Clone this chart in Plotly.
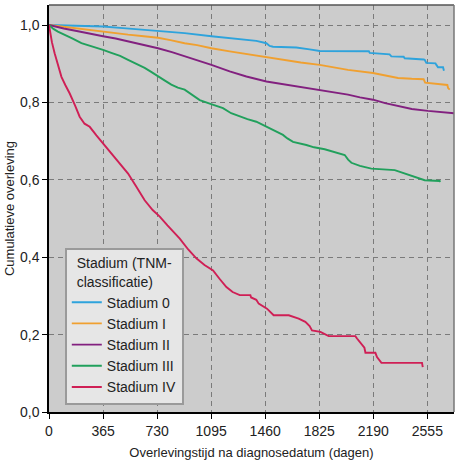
import plotly.graph_objects as go

# ---- data ----
series_names = ["Stadium 0", "Stadium I", "Stadium II", "Stadium III", "Stadium IV"]

days_0 = [0, 200, 365, 500, 736, 916, 1097, 1250, 1400, 1468, 1490, 1513, 1670, 1760, 1828, 2160, 2166, 2300, 2312,
          2395, 2402, 2530, 2537, 2548, 2610, 2616, 2627, 2661, 2667]
surv_0 = [1.0, 0.998, 0.996, 0.992, 0.985, 0.979, 0.971, 0.965, 0.959, 0.953, 0.946, 0.944, 0.942, 0.937, 0.933,
          0.932, 0.928, 0.924, 0.919, 0.918, 0.914, 0.911, 0.910, 0.902, 0.901, 0.897, 0.891, 0.891, 0.882]

days_1 = [0, 100, 196, 280, 365, 450, 534, 640, 736, 820, 916, 1000, 1097, 1220, 1320, 1423, 1558, 1700, 1828,
          1920, 2019, 2188, 2270, 2357, 2450, 2530, 2540, 2672, 2690, 2695, 2706]
surv_1 = [1.0, 0.995, 0.990, 0.986, 0.982, 0.979, 0.975, 0.971, 0.967, 0.961, 0.953, 0.948, 0.940, 0.932, 0.926,
          0.919, 0.910, 0.903, 0.897, 0.891, 0.884, 0.876, 0.869, 0.863, 0.861, 0.860, 0.851, 0.846, 0.845, 0.837,
          0.833]

days_2 = [0, 50, 100, 196, 280, 365, 450, 534, 640, 736, 830, 916, 1000, 1097, 1220, 1333, 1468, 1603, 1720,
          1828, 1920, 2019, 2100, 2188, 2270, 2357, 2450, 2559, 2650, 2739]
surv_2 = [1.0, 0.995, 0.991, 0.984, 0.977, 0.971, 0.965, 0.958, 0.949, 0.940, 0.930, 0.920, 0.909, 0.897, 0.880,
          0.867, 0.854, 0.846, 0.839, 0.833, 0.826, 0.820, 0.813, 0.807, 0.798, 0.790, 0.783, 0.778, 0.774, 0.772]

days_3 = [0, 30, 60, 107, 160, 219, 290, 365, 421, 480, 534, 590, 646, 690, 736, 780, 826, 870, 916, 970, 1018,
          1100, 1175, 1230, 1288, 1340, 1400, 1440, 1490, 1530, 1580, 1610, 1648, 1738, 1790, 1862, 1940, 1997,
          2020, 2042, 2100, 2177, 2335, 2402, 2458, 2537, 2638, 2640]
surv_3 = [1.0, 0.990, 0.983, 0.975, 0.965, 0.953, 0.945, 0.936, 0.928, 0.920, 0.910, 0.900, 0.889, 0.879, 0.867,
          0.857, 0.846, 0.838, 0.833, 0.818, 0.806, 0.795, 0.785, 0.772, 0.763, 0.757, 0.750, 0.742, 0.733, 0.726,
          0.716, 0.707, 0.698, 0.690, 0.684, 0.679, 0.670, 0.664, 0.652, 0.644, 0.636, 0.629, 0.625, 0.616, 0.608,
          0.599, 0.597, 0.594]

days_4 = [0, 10, 20, 38, 60, 84, 110, 140, 175, 207, 240, 275, 320, 365, 400, 444, 490, 534, 590, 646, 700, 748,
          800, 849, 883, 940, 995, 1050, 1108, 1150, 1198, 1240, 1288, 1360, 1365, 1400, 1416, 1472, 1500, 1517,
          1619, 1660, 1686, 1731, 1760, 1776, 1833, 1889, 2069, 2080, 2091, 2114, 2130, 2137, 2204, 2215, 2245,
          2519, 2524]
surv_4 = [1.0, 0.975, 0.955, 0.927, 0.895, 0.866, 0.845, 0.823, 0.793, 0.763, 0.745, 0.737, 0.715, 0.694, 0.677,
          0.659, 0.637, 0.616, 0.582, 0.547, 0.522, 0.505, 0.482, 0.461, 0.448, 0.420, 0.397, 0.380, 0.366, 0.345,
          0.323, 0.310, 0.302, 0.302, 0.296, 0.290, 0.280, 0.267, 0.258, 0.250, 0.250, 0.245, 0.2415, 0.233, 0.222,
          0.211, 0.207, 0.196, 0.196, 0.190, 0.185, 0.172, 0.166, 0.153, 0.153, 0.142, 0.127, 0.127, 0.116]

x_tickvals = [0, 365, 730, 1095, 1460, 1825, 2190, 2555]
x_ticktext = ["0", "365", "730", "1095", "1460", "1825", "2190", "2555"]
y_tickvals = [0.0, 0.2, 0.4, 0.6, 0.8, 1.0]
y_ticktext = ["0,0", "0,2", "0,4", "0,6", "0,8", "1,0"]

colors = ["#2ea3dc", "#f0a030", "#82207f", "#21a05c", "#cf1f55"]

all_days = [days_0, days_1, days_2, days_3, days_4]
all_surv = [surv_0, surv_1, surv_2, surv_3, surv_4]

fig = go.Figure()
for name, d, s, c in zip(series_names, all_days, all_surv, colors):
    fig.add_trace(go.Scatter(x=d, y=s, mode="lines", name=name, line=dict(color=c, width=1.9)))

font_family = "Liberation Sans, Arial, sans-serif"

fig.update_layout(
    width=459, height=462,
    margin=dict(l=49, r=5, t=5, b=50),
    paper_bgcolor="white",
    plot_bgcolor="#cccccc",
    font=dict(family=font_family, size=14, color="#222222"),
    showlegend=True,
    legend=dict(
        x=0.039, y=0.4025, xanchor="left", yanchor="top",
        bgcolor="#e6e6e6", bordercolor="#9a9a9a", borderwidth=2,
        font=dict(family=font_family, size=14, color="#222222"),
        title=dict(text="Stadium (TNM-<br>classificatie)", side="top center",
                   font=dict(family=font_family, size=14, color="#222222")),
        tracegroupgap=0, itemwidth=30,
    ),
    xaxis=dict(
        range=[0, 2735], tickvals=x_tickvals, ticktext=x_ticktext,
        showgrid=True, gridcolor="#7a7a7a", griddash="5px,4px", gridwidth=1,
        zeroline=False, showline=True, linecolor="black", linewidth=1.5,
        ticks="outside", ticklen=5, tickcolor="black", tickwidth=1.2,
        tickfont=dict(size=14),
        title=dict(text="Overlevingstijd na diagnosedatum (dagen)", font=dict(size=13), standoff=10),
        automargin=False,
    ),
    yaxis=dict(
        range=[0, 1.0517], tickvals=y_tickvals, ticktext=y_ticktext,
        showgrid=True, gridcolor="#7a7a7a", griddash="5px,4px", gridwidth=1,
        zeroline=False, showline=True, linecolor="black", linewidth=1.5,
        ticks="outside", ticklen=5, tickcolor="black", tickwidth=1.2,
        tickfont=dict(size=14),
        title=dict(text="Cumulatieve overleving", font=dict(size=13), standoff=2),
        automargin=False,
    ),
)

# grey frame on top and right
fig.add_shape(type="line", xref="paper", yref="paper", x0=0, x1=1, y0=1, y1=1,
              line=dict(color="#555555", width=1.5))
fig.add_shape(type="line", xref="paper", yref="paper", x0=1, x1=1, y0=0, y1=1,
              line=dict(color="#777777", width=1.5))

fig.write_html("out.html",
               config={"displayModeBar": False},
               post_script="document.body.style.margin='0';document.body.style.overflow='hidden';")
